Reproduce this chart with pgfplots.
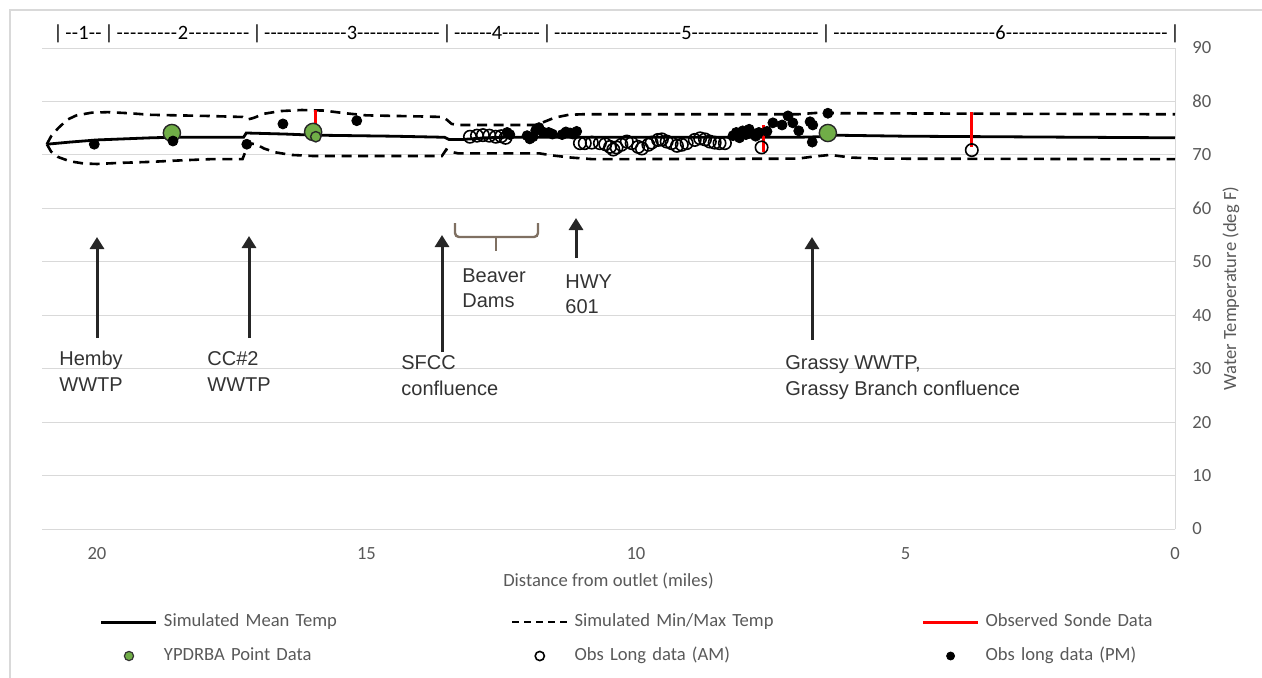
\documentclass[border=0pt]{standalone}
\usepackage{pgfplots}
\pgfplotsset{compat=1.18}
\usepackage{fontspec}
\setmainfont{Carlito}
\newfontfamily\annfont{Liberation Sans}
\usetikzlibrary{arrows.meta}
\definecolor{gridc}{HTML}{D9D9D9}
\definecolor{tickc}{HTML}{595959}
\definecolor{grn}{HTML}{70AD47}
\definecolor{brk}{HTML}{7F7062}
\definecolor{annc}{HTML}{333333}
\newlength\barw
\newcommand\seg[2]{\hbox to \dimexpr #1-\barw-2.4pt\relax{\xleaders\hbox{-}\hfill #2\xleaders\hbox{-}\hfill}}
\begin{document}
\fontsize{9.3}{11}\selectfont
\begin{tikzpicture}
\useasboundingbox (0,0) rectangle (631pt,338.5pt);
\begin{axis}[
 at={(21pt,74pt)}, anchor=south west,
 width=566.5pt, height=240.5pt, scale only axis,
 x dir=reverse, xmin=0, xmax=21.02, ymin=0, ymax=90,
 axis x line*=bottom, axis y line*=right,
 axis line style={gridc, line width=0.5pt},
 ymajorgrids, grid style={gridc, line width=0.5pt},
 xtick={0,5,10,15,20}, ytick={0,10,...,90},
 major tick length=0pt,
 tick label style={font=\fontsize{9.3}{11}\selectfont, text=tickc},
 xticklabel style={anchor=center, yshift=-12.5pt, inner sep=0pt},
 yticklabel style={anchor=west, xshift=8.5pt, inner sep=0pt},
 /pgf/number format/assume math mode=true,
 xlabel={Distance from outlet (miles)}, ylabel={Water Temperature (deg F)},
 every axis x label/.style={at={(rel axis cs:0.5,0)}, anchor=center, yshift=-26pt, text=tickc},
 every axis y label/.style={at={(rel axis cs:1,0.5)}, anchor=center, xshift=28pt, rotate=90, text=tickc},
 clip=false,
 legend columns=3, legend cell align=left,
 legend style={draw=none, fill=none, inner sep=0pt, outer sep=0pt,
   at={(axis description cs:0.0512,-0.2287)}, anchor=west, row sep=8.4pt, text=tickc,
   nodes={text width=170.5pt, inner xsep=3pt, inner ysep=0pt, text height=6.6pt, text depth=2pt}},
 legend image code/.code={\draw[mark repeat=2,mark phase=2,#1] plot coordinates {(0pt,0pt) (13.75pt,0pt) (27.5pt,0pt)};},
]
\addlegendimage{black, line width=1.5pt}
\addlegendentry{Simulated Mean Temp}
\addlegendimage{black, line width=1.3pt, dash pattern=on 3.5pt off 2.5pt}
\addlegendentry{Simulated Min/Max Temp}
\addlegendimage{red, line width=1.5pt}
\addlegendentry{Observed Sonde Data}
\addlegendimage{only marks, mark=*, mark size=2.3pt, mark options={fill=grn, draw=black!80, line width=0.6pt}}
\addlegendentry{YPDRBA Point Data}
\addlegendimage{only marks, mark=o, mark size=2.3pt, mark options={black, line width=0.8pt}}
\addlegendentry{Obs Long data (AM)}
\addlegendimage{only marks, mark=*, mark size=2pt, black}
\addlegendentry{Obs long data (PM)}

% simulated mean
\addplot[black, line width=1.4pt, forget plot] coordinates {
(20.93,72.0) (20.5,72.4) (20.0,72.8) (19.0,73.2) (18.6,73.3) (17.28,73.3) (17.23,74.1) (16.5,73.9) (16.0,73.7) (14.5,73.5) (13.55,73.3) (13.47,72.9) (13.2,72.9) (12.8,73.2) (12.4,73.3) (11.0,73.3) (7.0,73.3) (6.6,73.4) (6.4,73.7) (5.0,73.5) (0,73.2)};
% simulated max
\addplot[black, line width=1.3pt, dash pattern=on 5pt off 3.3pt, forget plot] coordinates {
(20.93,72.0) (20.85,73.5) (20.72,75.0) (20.55,76.6) (20.38,77.4) (20.1,77.9) (19.8,78.0) (19.4,77.8) (19.0,77.5) (18.0,77.3) (17.3,77.1) (17.22,76.6) (17.1,76.9) (16.9,77.7) (16.6,78.2) (16.2,78.4) (15.8,78.3) (15.4,77.8) (15.0,77.4) (14.0,77.2) (13.58,77.1) (13.5,76.5) (13.42,75.8) (13.3,75.6) (11.85,75.6) (11.7,76.2) (11.5,77.0) (11.25,77.5) (11.0,77.6) (7.0,77.6) (6.6,77.9) (6.2,77.8) (0,77.6)};
% simulated min
\addplot[black, line width=1.3pt, dash pattern=on 5pt off 3.3pt, forget plot] coordinates {
(20.93,72.0) (20.85,70.6) (20.72,69.6) (20.5,68.8) (20.25,68.4) (20.0,68.3) (19.6,68.5) (19.0,68.7) (18.4,69.0) (17.9,69.2) (17.3,69.2) (17.24,70.8) (17.2,72.2) (17.05,72.0) (16.9,71.2) (16.7,70.5) (16.4,70.0) (16.0,69.8) (13.6,69.8) (13.52,71.0) (13.45,70.6) (13.3,70.3) (11.8,70.3) (11.55,69.9) (11.2,69.5) (10.8,69.2) (7.0,69.3) (6.7,69.7) (6.4,70.0) (6.0,69.5) (5.5,69.3) (0,69.2)};
% observed sonde
\addplot[red, line width=1.5pt, forget plot] coordinates {(15.94,74.0) (15.94,78.4)};
\addplot[red, line width=1.5pt, forget plot] coordinates {(7.64,70.5) (7.64,75.6)};
\addplot[red, line width=1.5pt, forget plot] coordinates {(3.77,71.5) (3.77,78.0)};
% YPDRBA
\addplot[only marks, mark=*, mark size=4.3pt, mark options={fill=grn, draw=black!85, line width=0.7pt}, forget plot] coordinates {(18.61,74.1) (15.99,74.3) (6.44,74.1)};
\addplot[only marks, mark=*, mark size=2.6pt, mark options={fill=grn, draw=black!85, line width=0.7pt}, forget plot] coordinates {(15.94,73.4)};
% AM
\addplot[only marks, mark=o, mark size=3.1pt, mark options={black, line width=0.8pt}, forget plot] coordinates {
(13.08,73.4) (12.95,73.6) (12.84,73.7) (12.72,73.6) (12.60,73.4) (12.50,73.5) (12.42,73.2)
(11.04,72.2) (10.95,72.2) (10.82,72.3) (10.67,72.2) (10.57,72.0) (10.48,71.5) (10.42,71.0) (10.36,71.4) (10.27,71.9) (10.17,72.5) (10.08,72.2) (9.96,71.5) (9.89,71.2) (9.77,71.9) (9.71,72.3) (9.59,72.8) (9.52,72.9) (9.43,72.5) (9.34,72.2) (9.24,71.7) (9.15,71.9) (9.06,72.2) (8.91,72.8) (8.81,73.1) (8.72,72.9) (8.63,72.5) (8.54,72.3) (8.45,72.2) (8.35,72.2)
(7.67,71.4) (3.77,70.9)};
% PM
\addplot[only marks, mark=*, mark size=2.5pt, black, forget plot] coordinates {
(20.05,72.0) (18.59,72.6) (17.22,72.0) (16.55,75.8) (15.18,76.4)
(12.39,74.2) (12.34,73.8) (12.02,73.6) (11.97,73.0) (11.91,73.4) (11.86,74.6) (11.80,75.1) (11.73,74.3) (11.62,74.2) (11.55,73.9) (11.37,73.8) (11.30,74.3) (11.22,74.1) (11.17,73.9) (11.10,74.4)
(8.20,73.6) (8.14,74.2) (8.08,73.2) (8.02,74.5) (7.96,73.8) (7.90,74.8) (7.84,74.0) (7.78,73.5) (7.72,74.2) (7.57,74.4)
(7.46,76.0) (7.29,75.6) (7.18,77.3) (7.09,76.0) (6.98,74.5) (6.77,76.2) (6.72,75.6) (6.73,72.4) (6.44,77.8)};
\end{axis}

\begin{scope}[shift={(0pt,338.5pt)}, x=0.5pt, y=-0.5pt]
% chart frame
\draw[gridc, line width=0.6pt] (10,1400) -- (10,10) -- (1400,10);
% reach row
\begin{scope}[every node/.style={inner sep=0pt, anchor=base, font=\fontsize{10.2}{12}\selectfont\settowidth\barw{|}}]
\foreach \b in {58,109,257,447,547,826,1175} \node at (\b,39.5) {|};
\node at (83.5,39.5) {\seg{25.5pt}{1}};
\node at (183,39.5) {\seg{74pt}{2}};
\node at (352,39.5) {\seg{95pt}{3}};
\node at (497,39.5) {\seg{50pt}{4}};
\node at (686.5,39.5) {\seg{139.5pt}{5}};
\node at (1000.5,39.5) {\seg{174.5pt}{6}};
\end{scope}
% arrows
\begin{scope}[line width=1.5pt, black!85, -{Triangle[width=7pt,length=6pt]}]
\draw (97,338) -- (97,237);
\draw (249,338) -- (249,236);
\draw (442,352) -- (442,235);
\draw (576,258) -- (576,218);
\draw (812,340) -- (812,237);
\end{scope}
% beaver dams bracket
\draw[brk, line width=1.2pt, rounded corners=2pt] (455,223) -- (455,237) -- (538,237) -- (538,223);
\draw[brk, line width=1.2pt] (496,237) -- (496,251);
% annotation texts
\begin{scope}[every node/.style={anchor=base west, inner sep=0pt, text=annc, font=\annfont\fontsize{10}{12}\selectfont}]
\node at (59,365) {Hemby};
\node at (59,391) {WWTP};
\node at (207,365) {CC\#2};
\node at (207,391) {WWTP};
\node at (401,369) {SFCC};
\node at (401,395) {confluence};
\node at (462,282) {Beaver};
\node at (462,307) {Dams};
\node at (565,288) {HWY};
\node at (565,313) {601};
\node at (785,369) {Grassy WWTP,};
\node at (785,395) {Grassy Branch confluence};
\end{scope}
\end{scope}
\end{tikzpicture}
\end{document}
